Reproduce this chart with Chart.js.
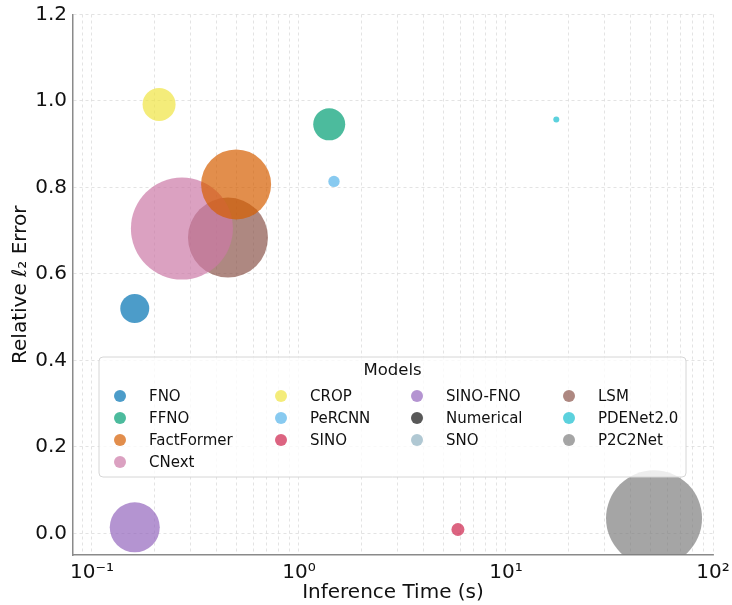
<!DOCTYPE html>
<html>
<head>
<meta charset="utf-8">
<script src="https://cdn.jsdelivr.net/npm/chart.js@4"></script>
<style>
  html, body { margin: 0; padding: 0; background: #fff; }
  #wrap { width: 732px; height: 605px; }
</style>
</head>
<body>
<div id="wrap"><canvas id="c" width="732" height="605"></canvas></div>
<script>
// ---- data ----
const models = ["FNO", "FFNO", "FactFormer", "CNext", "CROP", "PeRCNN", "SINO",
                "SINO-FNO", "Numerical", "SNO", "LSM", "PDENet2.0", "P2C2Net"];
const inferenceTimes = [0.161, 1.40, 0.497, 0.272, 0.211, 1.476, 5.86,
                        0.161, null, null, 0.454, 17.5, 51.9];
const relErrors = [0.520, 0.946, 0.807, 0.705, 0.992, 0.814, 0.009,
                   0.014, null, null, 0.684, 0.957, 0.035];
const bubbleSizes = [14.5, 16, 35, 51, 16.5, 5.7, 6.5,
                     25, null, null, 40, 3, 48];
const colors = ["#0072B2", "#009E73", "#D55E00", "#CC79A7", "#F0E442", "#56B4E9", "#CD224C",
                "#9467bd", "#111111", "#8fb0c0", "#8c564b", "#17becf", "#7f7f7f"];
const xTickValues = [0.09, 0.1, 0.2, 0.3, 0.4, 0.5, 0.6, 0.7, 0.8, 0.9,
                     1, 2, 3, 4, 5, 6, 7, 8, 9, 10, 20, 30, 40, 50, 60, 70, 80, 90, 100];
const xMajorLabels = {0.1: "10\u207B\u00B9", 1: "10\u2070", 10: "10\u00B9", 100: "10\u00B2"};
const yTickValues = [0, 0.2, 0.4, 0.6, 0.8, 1.0, 1.2];

function hexA(hex, a) {
  const n = parseInt(hex.slice(1), 16);
  return `rgba(${(n >> 16) & 255},${(n >> 8) & 255},${n & 255},${a})`;
}

const datasets = models.map((m, i) => ({
  label: m,
  data: inferenceTimes[i] == null ? [] : [{x: inferenceTimes[i], y: relErrors[i], r: bubbleSizes[i]}],
  backgroundColor: hexA(colors[i], 0.7),
  borderWidth: 0,
  hoverBorderWidth: 0,
  clip: 0
}));

const FONT = "'DejaVu Sans', sans-serif";

const legendPlugin = {
  id: 'colLegend',
  afterDatasetsDraw(chart) {
    const ctx = chart.ctx;
    const ca = chart.chartArea;
    const bx = ca.left + 26, by = 357, bw = 587, bh = 120;
    ctx.save();
    ctx.beginPath();
    if (ctx.roundRect) ctx.roundRect(bx, by, bw, bh, 4); else ctx.rect(bx, by, bw, bh);
    ctx.fillStyle = 'rgba(255,255,255,0.8)';
    ctx.fill();
    ctx.strokeStyle = '#d6d6d6';
    ctx.lineWidth = 1;
    ctx.stroke();
    ctx.fillStyle = '#111';
    ctx.font = `16.5px ${FONT}`;
    ctx.textAlign = 'center';
    ctx.textBaseline = 'middle';
    ctx.fillText('Models', bx + bw / 2, 371);
    // column-major like matplotlib: 13 entries in 4 columns -> 4,3,3,3
    const colSizes = [4, 3, 3, 3];
    const colMarkerX = [120, 281, 417, 569];
    const rowY = [396, 418, 440, 462];
    ctx.font = `15px ${FONT}`;
    ctx.textAlign = 'left';
    let idx = 0;
    colSizes.forEach((n, col) => {
      for (let row = 0; row < n; row++, idx++) {
        const ds = chart.data.datasets[idx];
        const mx = colMarkerX[col], my = rowY[row];
        ctx.beginPath();
        ctx.arc(mx, my, 6, 0, Math.PI * 2);
        ctx.fillStyle = ds.backgroundColor;
        ctx.fill();
        ctx.fillStyle = '#111';
        ctx.fillText(ds.label, mx + 29, my + 1);
      }
    });
    ctx.restore();
  }
};

new Chart(document.getElementById('c'), {
  type: 'bubble',
  data: { datasets },
  plugins: [legendPlugin],
  options: {
    responsive: false,
    animation: false,
    layout: { autoPadding: false, padding: { top: 14.5, right: 19, left: 0, bottom: 0 } },
    plugins: { legend: { display: false }, tooltip: { enabled: false } },
    scales: {
      x: {
        type: 'logarithmic',
        min: 0.081,
        max: 100,
        afterBuildTicks(scale) { scale.ticks = xTickValues.map(v => ({value: v})); },
        afterFit(scale) { scale.height = 50; scale.paddingLeft = 0; scale.paddingRight = 0; },
        grid: {
          color: '#dcdcdc',
          lineWidth: 0.8,
          drawTicks: false
        },
        border: { display: true, color: '#8a8a8a', width: 1.5, dash: [3, 3] },
        ticks: {
          autoSkip: false,
          maxRotation: 0,
          padding: 6,
          color: '#111',
          font: { family: FONT, size: 20 },
          callback: (v) => xMajorLabels[v] || ''
        },
        title: {
          display: true,
          text: 'Inference Time (s)',
          color: '#111',
          font: { family: FONT, size: 20 },
          padding: { top: 0, bottom: 0 }
        }
      },
      y: {
        min: -0.05,
        max: 1.2,
        afterBuildTicks(scale) { scale.ticks = yTickValues.map(v => ({value: v})); },
        afterFit(scale) { scale.width = 73; scale.paddingTop = 0; scale.paddingBottom = 0; },
        grid: {
          color: '#dcdcdc',
          lineWidth: 0.8,
          drawTicks: false
        },
        border: { display: true, color: '#8a8a8a', width: 1.5, dash: [3, 3] },
        ticks: {
          padding: 6,
          color: '#111',
          font: { family: FONT, size: 20 },
          callback: (v) => Number(v).toFixed(1)
        },
        title: {
          display: true,
          text: 'Relative \u2113\u2082 Error',
          color: '#111',
          font: { family: FONT, size: 20 },
          padding: { top: 9, bottom: 4 }
        }
      }
    }
  }
});
</script>
</body>
</html>
